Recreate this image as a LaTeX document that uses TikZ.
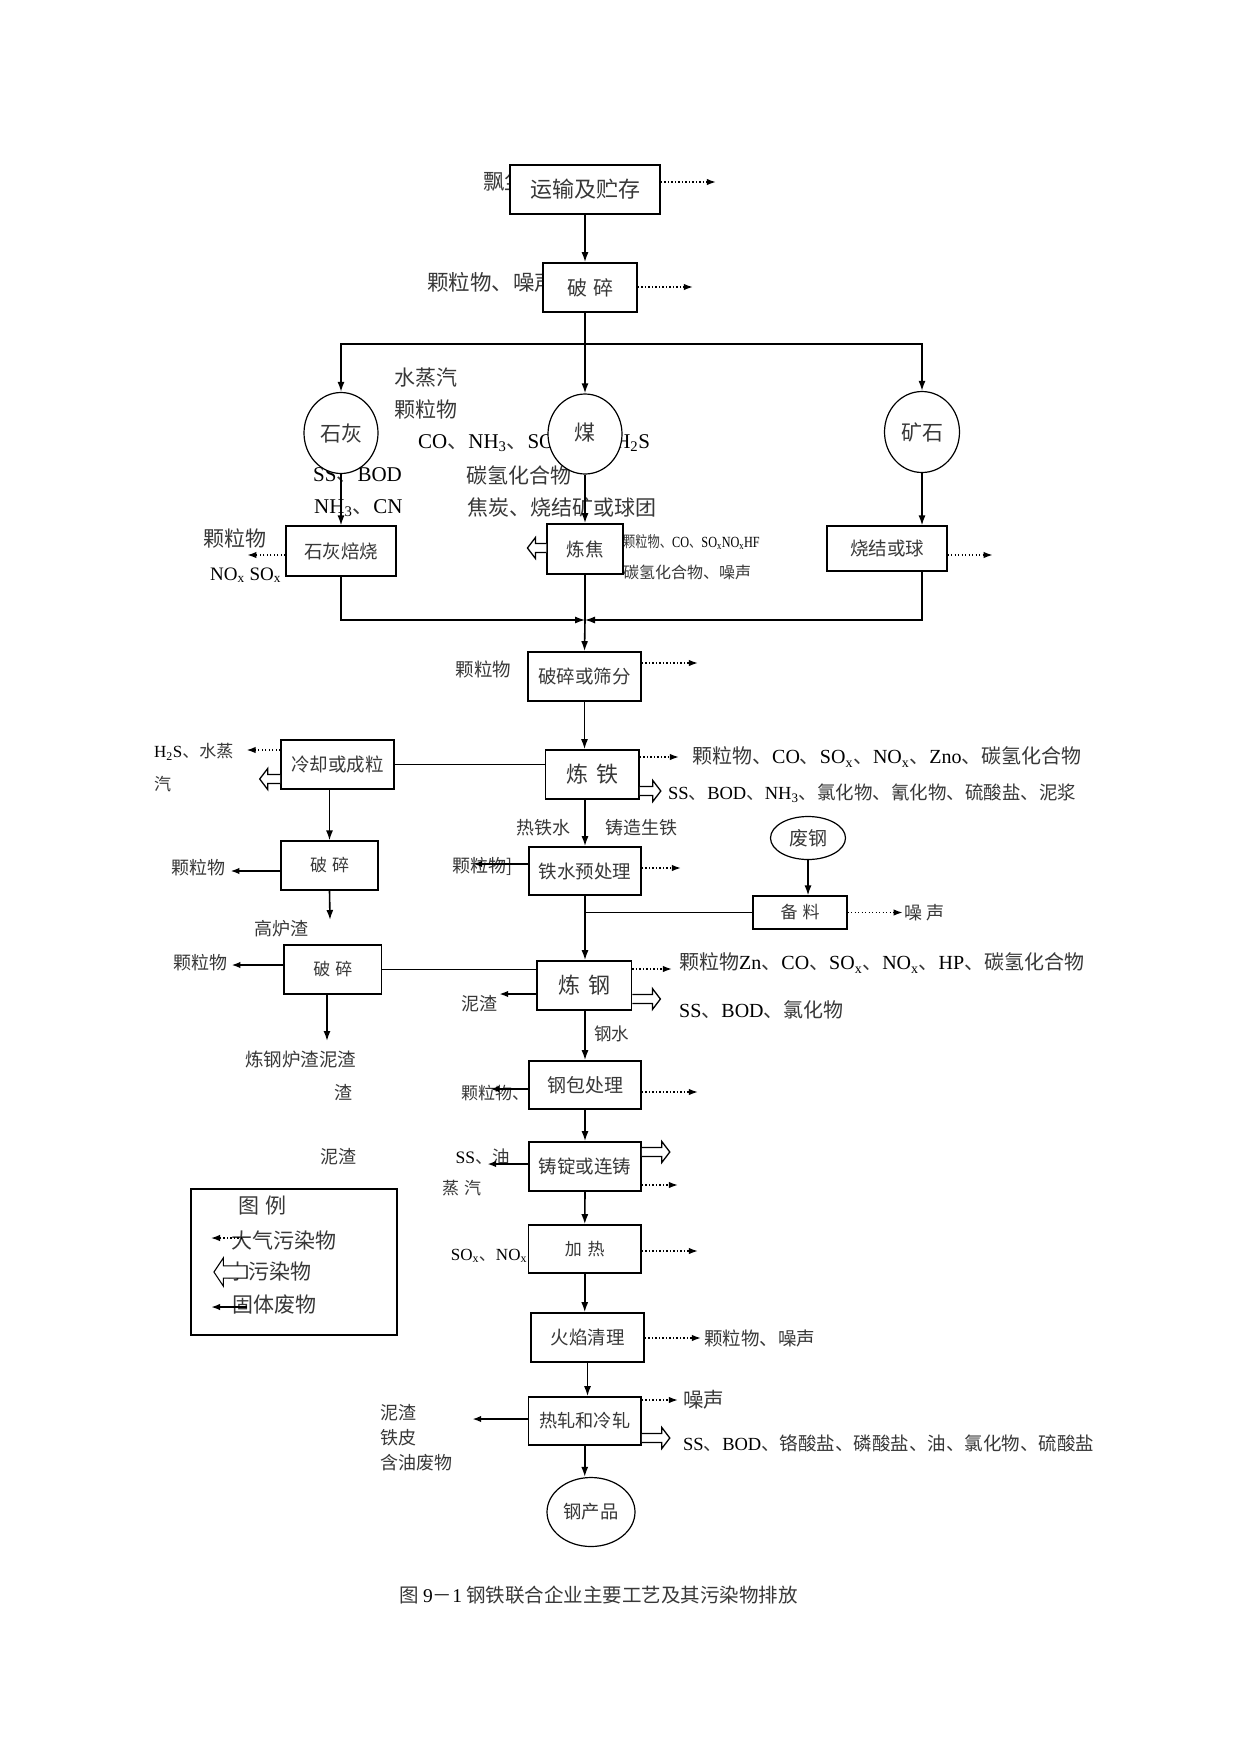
\documentclass[tikz,border=0pt]{standalone}
\usepackage{fontspec}
\usepackage{graphicx}
\setmainfont{Noto Sans CJK SC}
\newfontfamily\lat{Liberation Serif}
\usetikzlibrary{arrows.meta,shapes.geometric}
\newcommand\E[1]{{\lat\color{black}#1}}
\newcommand\fsz[1]{\fontsize{#1}{#1}\selectfont}
\newcommand\sub[1]{\textsubscript{#1}}
\begin{document}
\begin{tikzpicture}[x=1pt,y=-1pt,
 sz/.style 2 args={minimum width=#1pt, minimum height=#2pt},
 box/.style={draw, line width=1.6pt, fill=white, inner sep=0pt, text=black!78},
 tbox/.style={box, line width=1.1pt},
 circ/.style={ellipse, draw, line width=1.2pt, fill=white, inner sep=0pt, text=black!78},
 lbl/.style={anchor=west, inner sep=0pt, text=black!78},
 arr/.style={line width=1.6pt, -{Latex[length=10pt,width=7pt]}},
 tarr/.style={line width=1.2pt, -{Latex[length=10pt,width=7pt]}},
 tline/.style={line width=1.1pt},
 mline/.style={line width=1.6pt},
 air/.style={line width=1.3pt, dash pattern=on 1.2pt off 2.3pt, -{Latex[length=9pt,width=6.5pt]}},
 sol/.style={line width=2pt, -{Latex[length=9pt,width=6.5pt]}},
 pics/water/.style={code={\draw[line width=1.3pt, fill=white] (0,-4.5) -- (#1-8,-4.5) -- (#1-8,-10.5) -- (#1,0) -- (#1-8,10.5) -- (#1-8,4.5) -- (0,4.5);}},
 pics/waterc/.style={code={\draw[line width=1.1pt, fill=white] (0,-4.5) -- (#1-7,-4.5) -- (#1-7,-10.5) -- (#1,0) -- (#1-7,10.5) -- (#1-7,4.5) -- (0,4.5) -- cycle;}},
]
\useasboundingbox[fill=white] (0,0) rectangle (1241,1754);

% ---------- labels ----------
\node[lbl, font=\fsz{21.5}] (l1) at (483,182) {飘尘};
\node[lbl, font=\fsz{21.5}] (l2) at (427,282) {颗粒物、噪声};
\node[lbl, font=\fsz{21}] (l3) at (394.5,378) {水蒸汽};
\node[lbl, font=\fsz{21}] (l4) at (394.5,410) {颗粒物};
\node[lbl, font=\fsz{21}] (l5) at (418,443) {\E{CO}、\E{NH\sub{3}}、\E{SO\sub{2}}、\hspace{32pt}\E{H\sub{2}S}};
\node[lbl, font=\fsz{21}] (l6) at (313,475) {\E{SS}、\E{BOD}};
\node[lbl, font=\fsz{21}] (l7) at (314,508) {\E{NH\sub{3}}、\E{CN}};
\node[lbl, font=\fsz{21}] (l8) at (466,475) {碳氢化合物};
\node[lbl, font=\fsz{21}] (l9) at (467,507) {焦炭、烧结矿或球团};
\node[lbl, font=\fsz{21}] (l10) at (203,539) {颗粒物};
\node[lbl, font=\fsz{19}] (l11) at (210,575) {\E{NO\sub{x} SO\sub{x}}};
\node[lbl, font=\fsz{15.5}] (l12) at (623,542) {\scalebox{0.79}[1]{颗粒物、\E{CO}、\E{SO\sub{x}NO\sub{x}HF}}};
\node[lbl, font=\fsz{16}] (l13) at (623,572) {碳氢化合物、噪声};
\node[lbl, font=\fsz{18.5}] (l14) at (455.5,669) {颗粒物};
\node[lbl, font=\fsz{17}] (l15) at (154,752) {\E{H\sub{2}S}、水蒸};
\node[lbl, font=\fsz{17}] (l16) at (154,784) {汽};
\node[lbl, font=\fsz{20}] (l17) at (692,757) {颗粒物、\E{CO}、\E{SO\sub{x}}、\E{NO\sub{x}}、\E{Zno}、碳氢化合物};
\node[lbl, font=\fsz{18.5}] (l18) at (668,793) {\E{SS}、\E{BOD}、\E{NH\sub{3}}、氯化物、氰化物、硫酸盐、泥浆};
\node[lbl, font=\fsz{18}] (l19) at (516,828) {热铁水};
\node[lbl, font=\fsz{18}] (l20) at (605,828) {铸造生铁};
\node[lbl, font=\fsz{18}] (l21) at (171,868) {颗粒物};
\node[lbl, font=\fsz{18}] (l22) at (452,866) {颗粒物]};
\node[lbl, font=\fsz{18}] (l23) at (904,913) {噪\hspace{4pt}声};
\node[lbl, font=\fsz{18}] (l24) at (254.5,929) {高炉渣};
\node[lbl, font=\fsz{18}] (l25) at (173,963) {颗粒物};
\node[lbl, font=\fsz{18.5}] (l26) at (245,1059) {炼钢炉渣泥渣};
\node[lbl, font=\fsz{18}] (l27) at (334,1093) {渣};
\node[lbl, font=\fsz{18}] (l28) at (320.5,1157) {泥渣};
\node[lbl, font=\fsz{18}] (l29) at (461,1004) {泥渣};
\node[lbl, font=\fsz{20}] (l30) at (679,963) {颗粒物\E{Zn}、\E{CO}、\E{SO\sub{x}}、\E{NO\sub{x}}、\E{HP}、碳氢化合物};
\node[lbl, font=\fsz{20}] (l31) at (679,1010) {\E{SS}、\E{BOD}、氯化物};
\node[lbl, font=\fsz{17.5}] (l32) at (594,1034) {钢水};
\node[lbl, font=\fsz{17}] (l33) at (461,1093) {颗粒物、};
\node[lbl, font=\fsz{17.5}] (l34) at (455.5,1157) {\E{SS}、油};
\node[lbl, font=\fsz{17}] (l35) at (442,1188) {蒸\hspace{5pt}汽};
\node[lbl, font=\fsz{17}] (l36) at (450.6,1256) {\E{SO\sub{x}}、\E{NO\sub{x}}};
\node[lbl, font=\fsz{18.5}] (l37) at (704,1338) {颗粒物、噪声};
\node[lbl, font=\fsz{20.5}] (l38) at (683,1400) {噪声};
\node[lbl, font=\fsz{18.5}] (l39) at (683,1443) {\E{SS}、\E{BOD}、铬酸盐、磷酸盐、油、氯化物、硫酸盐};
\node[lbl, font=\fsz{18}] (l40) at (380,1413) {泥渣};
\node[lbl, font=\fsz{18}] (l41) at (380,1438) {铁皮};
\node[lbl, font=\fsz{18}] (l42) at (380,1463) {含油废物};
% legend
\node[draw, line width=1.3pt, sz={206}{146}, inner sep=0pt] (leg) at (294,1262) {};
\node[lbl, font=\fsz{21}] (g1) at (238,1206) {图\hspace{6pt}例};
\node[lbl, font=\fsz{21}] (g2) at (231,1240) {大气污染物};
\node[lbl, font=\fsz{21}] (g3) at (227,1272) {水污染物};
\node[lbl, font=\fsz{21}] (g4) at (232,1305) {固体废物};
% caption
\node[lbl, font=\fsz{19.5}] (cap) at (399,1595) {图 \E{9}－\E{1} 钢铁联合企业主要工艺及其污染物排放};

% ---------- boxes ----------
\node[box, sz={150}{49}, font=\fsz{22}] (ys) at (585,189.5) {运输及贮存};
\node[box, sz={94}{49}, font=\fsz{20}] (ps1) at (590,287.5) {破\hspace{6pt}碎};
\node[circ, sz={74}{81}, font=\fsz{21}] (sh) at (341,433) {石灰\hspace{16pt}};
\node[circ, sz={74}{80}, font=\fsz{21}] (mei) at (585,434) {\raisebox{5pt}{煤}};
\node[circ, sz={75}{81}, font=\fsz{21}] (ks) at (922,432) {矿石};
\node[tbox, sz={110}{50}, font=\fsz{18.5}] (shb) at (341,551) {石灰焙烧};
\node[box, sz={75.5}{50}, font=\fsz{18.5}] (lj) at (585,549) {炼焦};
\node[tbox, sz={120}{45}, font=\fsz{18.5}] (sj) at (887,548.5) {烧结或球\hspace{14pt}};
\node[box, sz={113}{49}, font=\fsz{18.5}] (pss) at (584.5,676.5) {破碎或筛分};
\node[box, sz={93.4}{49}, font=\fsz{22}] (lt) at (592.3,774.5) {炼\hspace{8pt}铁};
\node[box, sz={113}{49}, font=\fsz{18.5}] (lq) at (337.5,764.5) {冷却或成粒};
\node[tbox, sz={97}{49}, font=\fsz{17}] (ps2) at (329.5,865.5) {破\hspace{5pt}碎};
\node[box, sz={112}{48}, font=\fsz{18.5}] (ty) at (585,871) {铁水预处理};
\node[circ, sz={75}{43}, font=\fsz{19}] (fg) at (808,838) {废钢};
\node[tbox, sz={94}{33}, font=\fsz{17}] (bl) at (800,912.5) {备\hspace{5pt}料};
\node[tbox, sz={97.5}{49}, font=\fsz{17}] (ps3) at (332.75,969.5) {破\hspace{5pt}碎};
\node[box, sz={94.6}{49}, font=\fsz{22}] (lg) at (584.3,985.5) {炼\hspace{8pt}钢};
\node[box, sz={112}{48}, font=\fsz{19}] (gb) at (585,1085) {钢包处理};
\node[box, sz={112}{49}, font=\fsz{18.5}] (zd) at (585,1166.5) {铸锭或连铸};
\node[box, sz={112.5}{48}, font=\fsz{17}] (jr) at (584.75,1249) {加\hspace{6pt}热};
\node[box, sz={113}{49}, font=\fsz{18.5}] (hy) at (587.5,1337.5) {火焰清理};
\node[box, sz={112.5}{48}, font=\fsz{18.2}] (rz) at (584.75,1421) {热轧和冷轧};
\node[circ, sz={88}{69}, font=\fsz{18.3}] (gcp) at (591,1512) {钢产品};

% ---------- main flow ----------
\coordinate (j1) at (585,344);
\draw[arr] (ys.south -| j1) -- (ps1.north -| j1);
\draw[mline] (ps1.south -| j1) -- (j1);
\draw[arr] (j1) -| (sh.north);
\draw[arr] (j1) -| (ks.north);
\draw[arr] (j1) -- (mei.north);
\draw[arr] (sh.south) -- (shb.north);
\draw[arr] (mei.south) -- (lj.north);
\draw[arr] (ks.south) -- (ks.south |- sj.north);
\coordinate (j2) at (585,620);
\draw[tarr] (shb.south) |- (j2);
\draw[tarr] (ks.south |- sj.south) |- (j2);
\draw[mline] (lj.south) -- (j2);
\draw[arr] (j2) -- (pss.north);
\draw[arr] (pss.south) -- (pss.south |- lt.north);
\draw[tline] (lq.east) -- (lq.east -| lt.west);
\draw[arr] (ps2.north |- lq.south) -- (ps2.north);
\coordinate (gzc) at (330,920);
\draw[arr] (ps2.south) -- (gzc);
\draw[tline] (ps3.east) -- (ps3.east -| lg.west);
\coordinate (lzc) at (327,1041);
\draw[arr] (ps3.south -| lzc) -- (lzc);
\draw[arr] (ty.north |- lt.south) -- (ty.north);
\draw[arr] (ty.south) -- (ty.south |- lg.north);
\draw[mline] (bl.west) -- (bl.west -| ty.south);
\draw[arr] (fg.south) -- (fg.south |- bl.north);
\draw[arr] (lg.south -| gb.north) -- (gb.north);
\draw[arr] (gb.south) -- (zd.north);
\draw[arr] (zd.south) -- (jr.north);
\draw[arr] (jr.south) -- (jr.south |- hy.north);
\draw[arr] (hy.south) -- (hy.south |- rz.north);
\draw[arr] (rz.south) -- (rz.south |- gcp.north);

% ---------- air pollutants (dotted) ----------
\draw[air] (ys.east |- 0,182) -- ++(55,0);
\draw[air] (ps1.east |- 0,287) -- ++(55,0);
\draw[air] (shb.west |- 0,555) -- ++(-38,0);
\draw[air] (sj.east |- 0,555) -- ++(45,0);
\draw[air] (pss.east |- 0,663) -- ++(56,0);
\draw[air] (lt.east |- 0,757) -- ++(39,0);
\draw[air] (lq.west |- 0,750) -- ++(-33.5,0);
\draw[air] (ty.east |- 0,868) -- ++(39,0);
\draw[air] (bl.east) -- ++(55,0);
\draw[air] (lg.east |- 0,969) -- ++(39.4,0);
\draw[air] (gb.east |- 0,1092) -- ++(56,0);
\draw[air] (zd.east |- 0,1185) -- ++(36,0);
\draw[air] (jr.east |- 0,1251) -- ++(56,0);
\draw[air] (hy.east |- 0,1338) -- ++(56,0);
\draw[air] (rz.east |- 0,1400) -- ++(36,0);
\coordinate (ga) at (242,1238);
\draw[air] (ga) -- ++(-31,0);

% ---------- solid waste ----------
\draw[sol] (ps2.west |- 0,871) -- ++(-50,0);
\draw[sol] (ty.west |- 0,864) -- ++(-55,0);
\draw[sol] (ps3.west |- 0,965) -- ++(-52,0);
\draw[sol] (lg.west |- 0,994) -- ++(-37,0);
\draw[sol] (gb.west |- 0,1089) -- ++(-38,0);
\draw[sol] (zd.west |- 0,1164) -- ++(-41,0);
\draw[sol] (rz.west |- 0,1419) -- ++(-55.5,0);
\coordinate (gs) at (247,1307);
\draw[sol] (gs) -- ++(-36,0);

% ---------- water pollutants (hollow) ----------
\pic[rotate=180] at (lj.west |- 0,548) {water=19};
\pic[rotate=180] at (lq.west |- 0,779) {water=20.5};
\pic at (lt.east |- 0,791) {water=21};
\pic at (lg.east |- 0,999) {water=28};
\pic at (zd.east |- 0,1152) {water=28};
\pic at (rz.east |- 0,1438) {water=28};
\coordinate (gw) at (247,1272);
\pic[rotate=180, scale=1.35] at (gw) {waterc=24.5};
\end{tikzpicture}
\end{document}
